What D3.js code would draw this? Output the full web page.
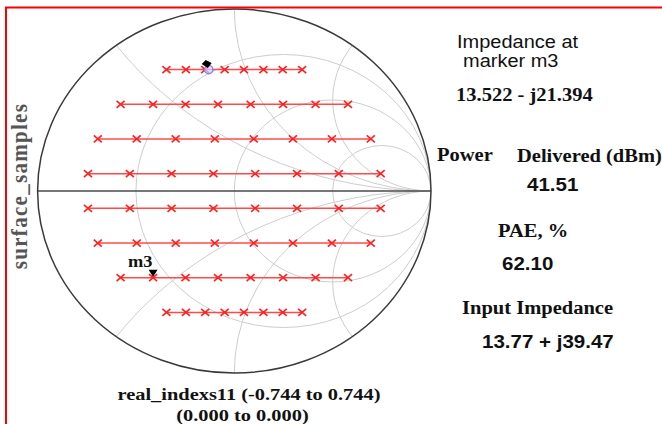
<!DOCTYPE html>
<html>
<head>
<meta charset="utf-8">
<script src="https://cdn.jsdelivr.net/npm/d3@7"></script>
<style>
  body { margin: 0; background: #fff; }
  svg { display: block; }
  .serif { font-family: "Liberation Serif", "Times New Roman", serif; font-weight: bold; fill: #111; }
  .sans { font-family: "Liberation Sans", Arial, sans-serif; fill: #111; }
</style>
</head>
<body>
<div class="vis-smith"></div>
<script>
// reflection coefficient samples: one row per imaginary value, real parts
const rowImag = [0.667, 0.476, 0.286, 0.095, -0.095, -0.286, -0.476, -0.667];
const rowReal = [
  [-0.345, -0.246, -0.148, -0.049, 0.049, 0.148, 0.246, 0.345],
  [-0.578, -0.413, -0.248, -0.083, 0.083, 0.248, 0.413, 0.578],
  [-0.694, -0.496, -0.298, -0.099, 0.099, 0.298, 0.496, 0.694],
  [-0.744, -0.531, -0.319, -0.106, 0.106, 0.319, 0.531, 0.744],
  [-0.744, -0.531, -0.319, -0.106, 0.106, 0.319, 0.531, 0.744],
  [-0.694, -0.496, -0.298, -0.099, 0.099, 0.298, 0.496, 0.694],
  [-0.578, -0.413, -0.248, -0.083, 0.083, 0.248, 0.413, 0.578],
  [-0.345, -0.246, -0.148, -0.049, 0.049, 0.148, 0.246, 0.345]
];

// smith chart grid
const resistances = [1 / 3, 1, 3];
const reactances = [0.5, 1, 2, -0.5, -1, -2];

// markers [row, index]
const m3Marker = [6, 1];
const selMarker = [0, 2];

// texts
const yLabel = 'surface_samples';
const xLabel = ['real_indexs11 (-0.744 to 0.744)', '(0.000 to 0.000)'];
const impTitle = ['Impedance at', 'marker m3'];
const impValue = '13.522 - j21.394';
const powerTitle = ['Power', 'Delivered (dBm)'];
const powerValue = '41.51';
const paeTitle = 'PAE, %';
const paeValue = '62.10';
const inTitle = 'Input Impedance';
const inValue = '13.77 + j39.47';

const W = 662, H = 424;
const stretch = 1.08;

const svg = d3.select('.vis-smith').append('svg')
    .attr('width', W)
    .attr('height', H);

const x = d3.scaleLinear().domain([-1, 1]).range([37.6, 431]);
const y = d3.scaleLinear().domain([-1, 1]).range([373, 9]);
const rx = (x(1) - x(-1)) / 2;
const ry = (y(-1) - y(1)) / 2;

svg.append('clipPath').attr('id', 'unit')
    .append('ellipse')
    .attr('cx', x(0)).attr('cy', y(0))
    .attr('rx', rx).attr('ry', ry);

// grid
const grid = svg.append('g')
    .attr('clip-path', 'url(#unit)')
    .attr('fill', 'none')
    .attr('stroke', '#cdcdcd')
    .attr('stroke-width', 1);

grid.selectAll('.rcirc')
    .data(resistances)
    .enter().append('ellipse')
    .attr('class', 'rcirc')
    .attr('cx', r => x(r / (1 + r)))
    .attr('cy', y(0))
    .attr('rx', r => rx / (1 + r))
    .attr('ry', r => ry / (1 + r));

grid.selectAll('.xarc')
    .data(reactances)
    .enter().append('ellipse')
    .attr('class', 'xarc')
    .attr('cx', x(1))
    .attr('cy', v => y(1 / v))
    .attr('rx', v => rx / Math.abs(v))
    .attr('ry', v => ry / Math.abs(v));

// outer circle and real axis
svg.append('line')
    .attr('x1', x(-1)).attr('x2', x(1))
    .attr('y1', y(0)).attr('y2', y(0))
    .attr('stroke', '#4a4a4a')
    .attr('stroke-width', 1.6);

svg.append('ellipse')
    .attr('cx', x(0)).attr('cy', y(0))
    .attr('rx', rx).attr('ry', ry)
    .attr('fill', 'none')
    .attr('stroke', '#3a3a3a')
    .attr('stroke-width', 1.5);

// sample rows
const rows = rowImag.map((im, i) => rowReal[i].map(re => ({ re, im })));
const line = d3.line().x(d => x(d.re)).y(d => y(d.im));

svg.selectAll('.row')
    .data(rows)
    .enter().append('path')
    .attr('class', 'row')
    .attr('d', line)
    .attr('fill', 'none')
    .attr('stroke', '#ff4a4a')
    .attr('stroke-width', 1.5);

svg.selectAll('.pt')
    .data(rows.flat())
    .enter().append('path')
    .attr('class', 'pt')
    .attr('transform', d => 'translate(' + x(d.re) + ',' + y(d.im) + ')')
    .attr('d', 'M-4,-3.5L4,3.5M-4,3.5L4,-3.5')
    .attr('stroke', '#ff2020')
    .attr('stroke-width', 1.6);

// selected point marker
const sel = rows[selMarker[0]][selMarker[1]];
svg.append('circle')
    .attr('cx', x(sel.re) + 3.5).attr('cy', y(sel.im))
    .attr('r', 4.2)
    .attr('fill', '#d8d8ff')
    .attr('fill-opacity', 0.7)
    .attr('stroke', '#7f7fff')
    .attr('stroke-width', 1.4);
svg.append('path')
    .attr('transform', 'translate(' + (x(sel.re) + 1.5) + ',' + (y(sel.im) - 5.5) + ')')
    .attr('d', 'M-5,0L-1,-4L5,-1L1,4Z')
    .attr('fill', '#000');

// m3 marker
const m3 = rows[m3Marker[0]][m3Marker[1]];
svg.append('path')
    .attr('transform', 'translate(' + x(m3.re) + ',' + (y(m3.im) - 1) + ')')
    .attr('d', 'M-4.5,-7L4.5,-7L0,0Z')
    .attr('fill', '#000');
svg.append('text')
    .attr('class', 'serif')
    .attr('transform', 'translate(' + (x(m3.re) - 25) + ',' + (y(m3.im) - 11) + ') scale(' + stretch + ',1)')
    .style('font-size', '17px')
    .text('m3');

// frame
svg.append('path')
    .attr('d', 'M' + W + ',7.5H6V' + H)
    .attr('fill', 'none')
    .attr('stroke', '#ff0000')
    .attr('stroke-width', 2);

// text helper: the plot is stretched horizontally, so stretch text too
const label = (px, py, str, cls, size, anchor, sx) => svg.append('text')
    .attr('class', cls)
    .attr('text-anchor', anchor || 'start')
    .attr('transform', 'translate(' + px + ',' + py + ') scale(' + (sx || stretch) + ',1)')
    .style('font-size', size + 'px')
    .text(str);

label(457, 48, impTitle[0], 'sans', 18.5);
label(463, 67, impTitle[1], 'sans', 18.5);
label(456, 101, impValue, 'serif', 19);
label(437, 161, powerTitle[0], 'serif', 19);
label(517, 162, powerTitle[1], 'serif', 19);
label(527, 191, powerValue, 'sans', 19).style('font-weight', 'bold');
label(498, 237, paeTitle, 'serif', 19);
label(502, 270, paeValue, 'sans', 19).style('font-weight', 'bold');
label(462, 314, inTitle, 'serif', 19);
label(482, 348, inValue, 'sans', 19).style('font-weight', 'bold');

label(249, 400, xLabel[0], 'serif', 17, 'middle', 1.2);
label(242.5, 421, xLabel[1], 'serif', 17, 'middle', 1.2);

// y label
svg.append('text')
    .attr('class', 'serif')
    .attr('text-anchor', 'middle')
    .attr('transform', 'translate(27,186) scale(' + stretch + ',1) rotate(-90)')
    .style('font-size', '21px')
    .style('letter-spacing', '1.3px')
    .style('fill', '#555')
    .text(yLabel);
</script>
</body>
</html>
